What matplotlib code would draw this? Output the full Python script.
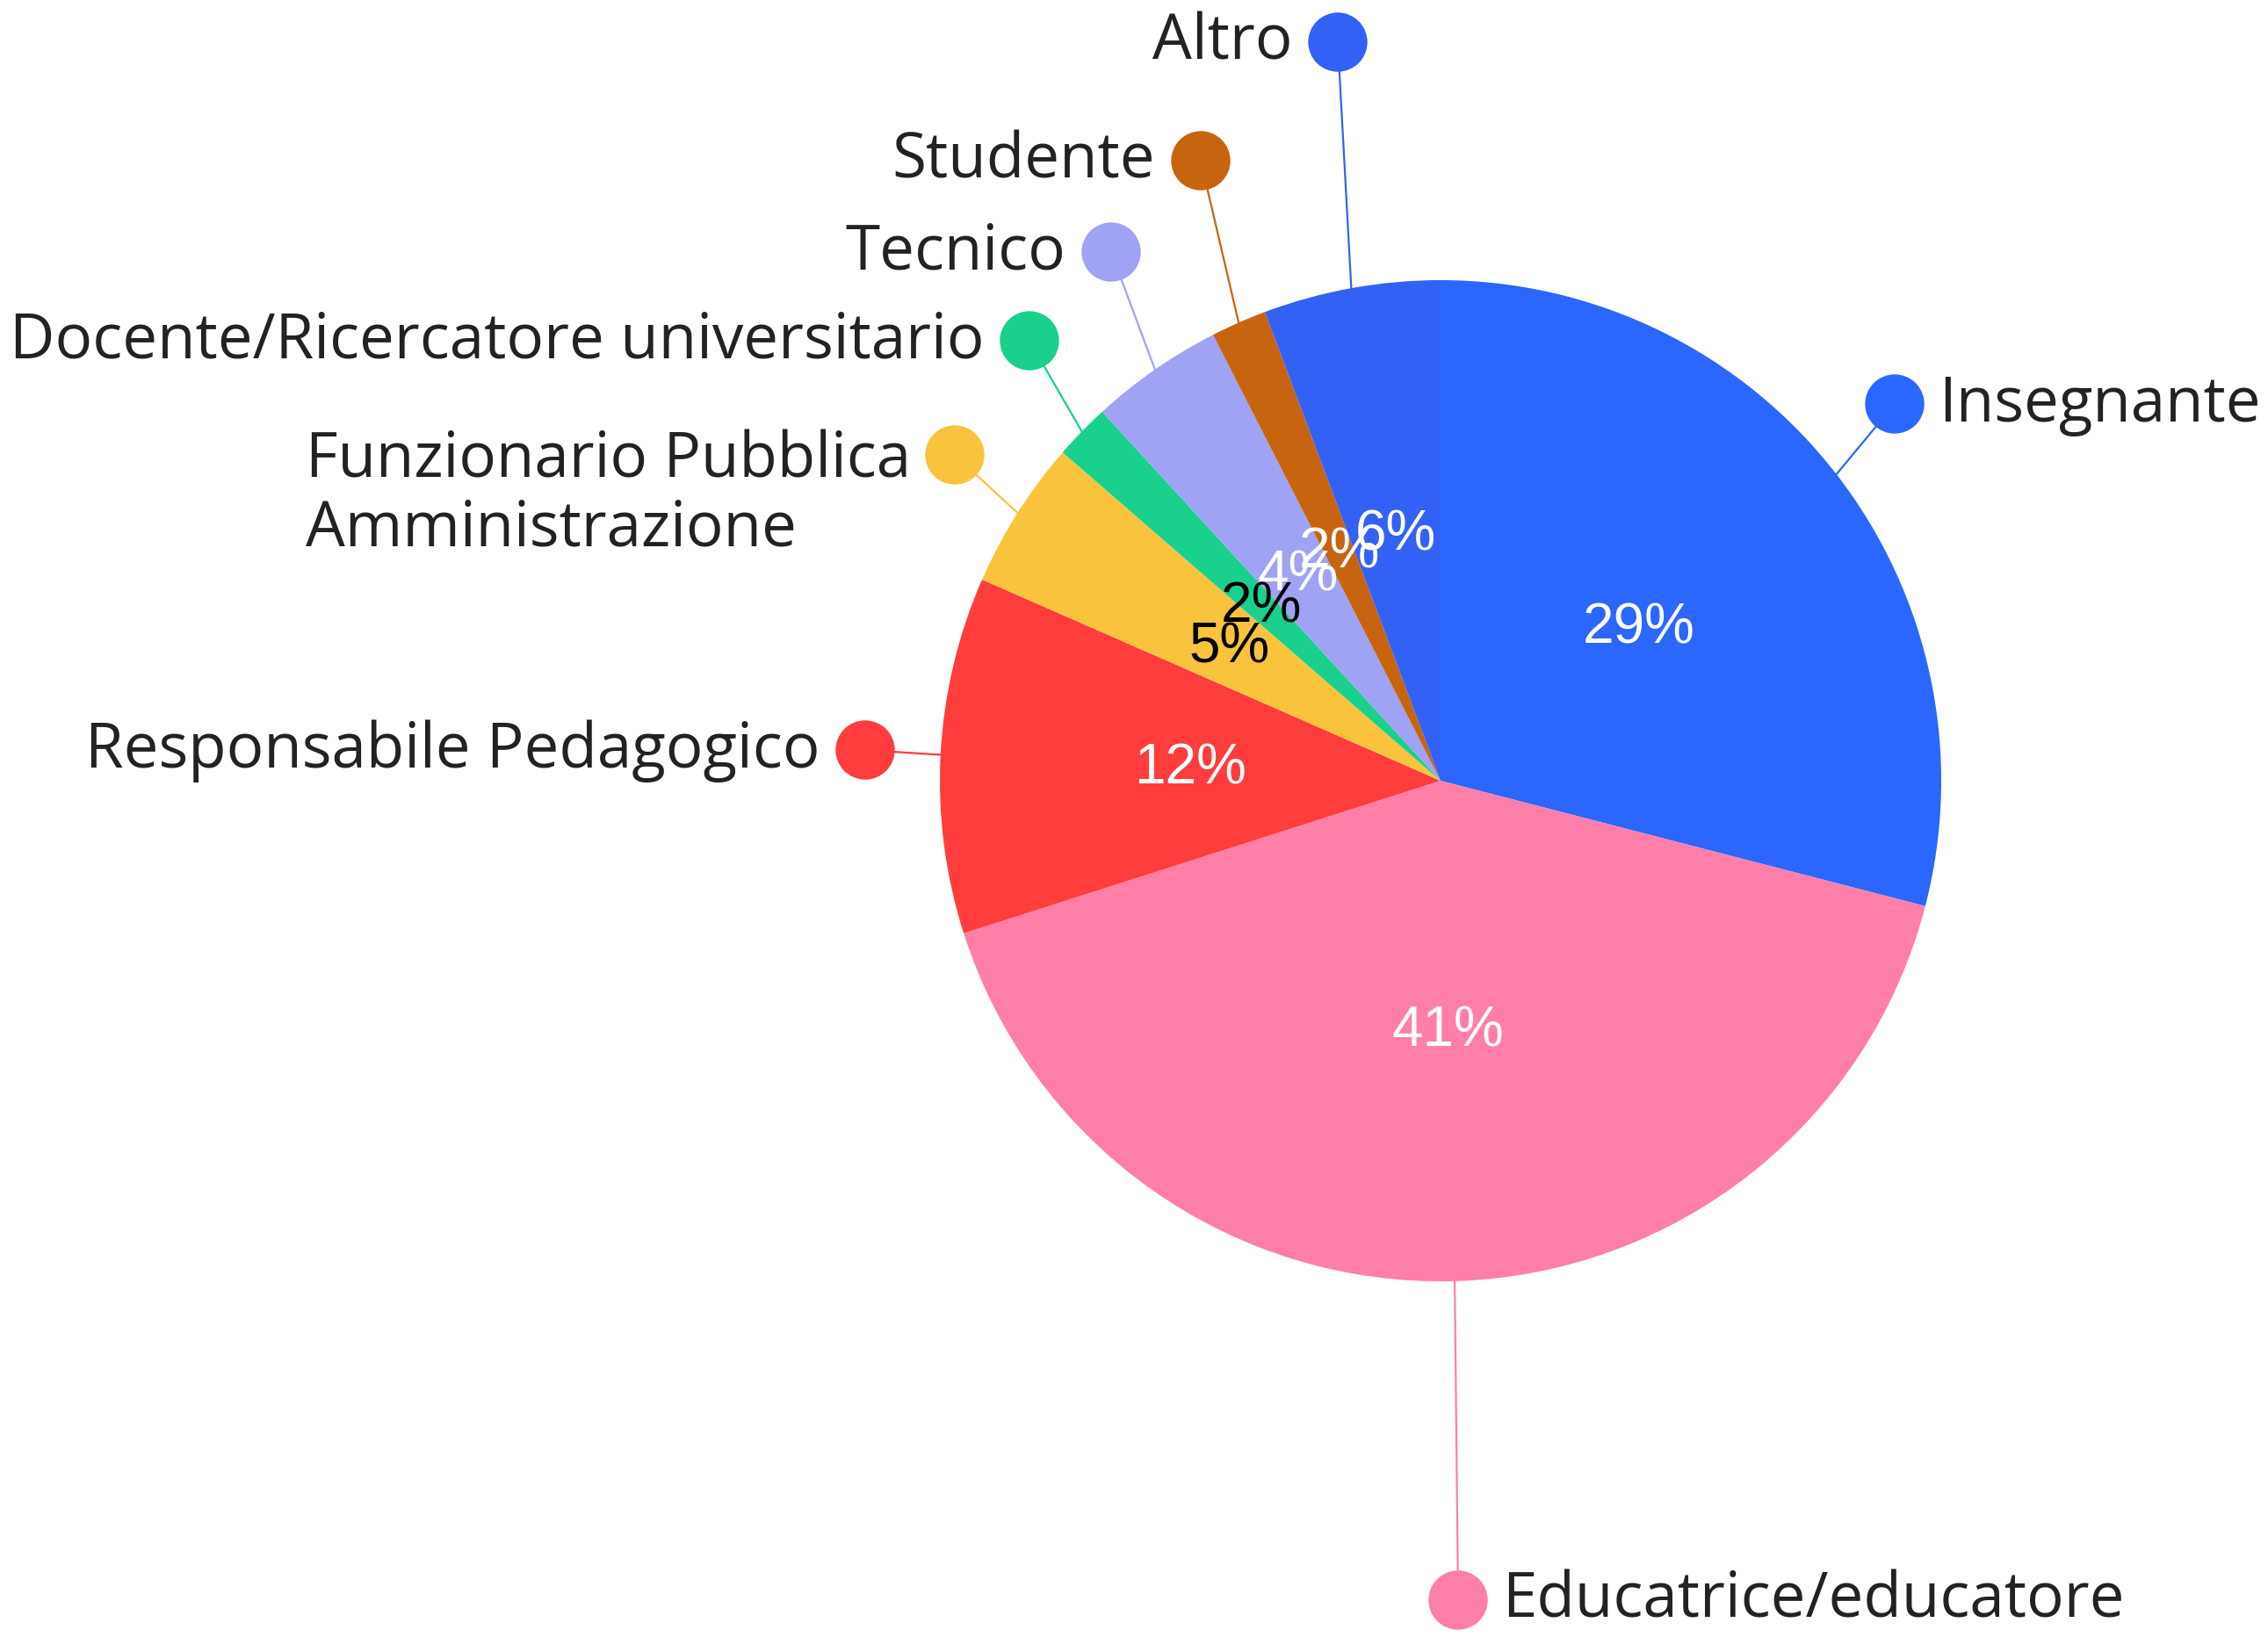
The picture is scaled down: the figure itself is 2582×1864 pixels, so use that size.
import numpy as np
import matplotlib
matplotlib.use('Agg')
import matplotlib.pyplot as plt
from matplotlib.patches import Circle

# Data (percentuali)
categorie = ['Insegnante', 'Educatrice/educatore', 'Responsabile Pedagogico',
             'Funzionario Pubblica\nAmministrazione', 'Docente/Ricercatore universitario',
             'Tecnico', 'Studente', 'Altro']
valori = [29.0, 41.0, 11.5, 4.8, 1.8, 4.3, 1.8, 5.7]
colori = ['#2B66FF', '#FF7FA8', '#FF3D3D', '#F9C33D', '#19D08D', '#A0A2F4', '#C6640F', '#3461F5']
colori_pct = ['white', 'white', 'white', 'black', 'black', 'white', 'white', 'white']

W, H = 2582, 1865
def up(y):  # y pixel (dall'alto) -> coordinate asse
    return H - y

# layout: centro torta, raggio, posizione dei pallini delle etichette (pixel dall'alto)
cx, cy, R = 1640, up(890), 570
pallini = [(2157, 461), (1660, 1823), (985, 855), (1087, 519), (1172, 389),
           (1265, 288), (1367, 184), (1523, 49)]
lato = ['right', 'right', 'left', 'left', 'left', 'left', 'left', 'left']
font_lab = 'Open Sans'
fs = 51

fig = plt.figure(figsize=(W / 100, H / 100), dpi=100)
ax = fig.add_axes([0, 0, 1, 1])

wedges, _, pct = ax.pie(valori, colors=colori, startangle=90, counterclock=False,
                        center=(cx, cy), radius=R, autopct='%.0f%%', pctdistance=0.5,
                        wedgeprops={'linewidth': 0},
                        textprops={'fontsize': 46, 'family': ['Liberation Sans Narrow', 'Liberation Sans']})
for t, c in zip(pct, colori_pct):
    t.set_color(c)

for w, col, (px, py), side, lab in zip(wedges, colori, pallini, lato, categorie):
    ang = np.deg2rad((w.theta1 + w.theta2) / 2)
    x0, y0 = cx + R * np.cos(ang), cy + R * np.sin(ang)
    ax.plot([x0, px], [y0, up(py)], color=col, linewidth=1.6, zorder=1)
    ax.add_patch(Circle((px, up(py)), 33, color=col, zorder=3))
    if side == 'right':
        ax.text(px + 50, up(py), lab, ha='left', va='center', fontsize=fs,
                family=font_lab, color='#222222')
    elif '\n' in lab:
        ax.text(px - 50, up(py) + 30, lab, ha='right', va='top', fontsize=fs,
                family=font_lab, color='#222222', multialignment='left', linespacing=1.12)
    else:
        ax.text(px - 52, up(py), lab, ha='right', va='center', fontsize=fs,
                family=font_lab, color='#222222')

ax.set_xlim(0, W)
ax.set_ylim(0, H)
ax.set_aspect('equal')
ax.axis('off')

fig.savefig('out.png', dpi=100)
